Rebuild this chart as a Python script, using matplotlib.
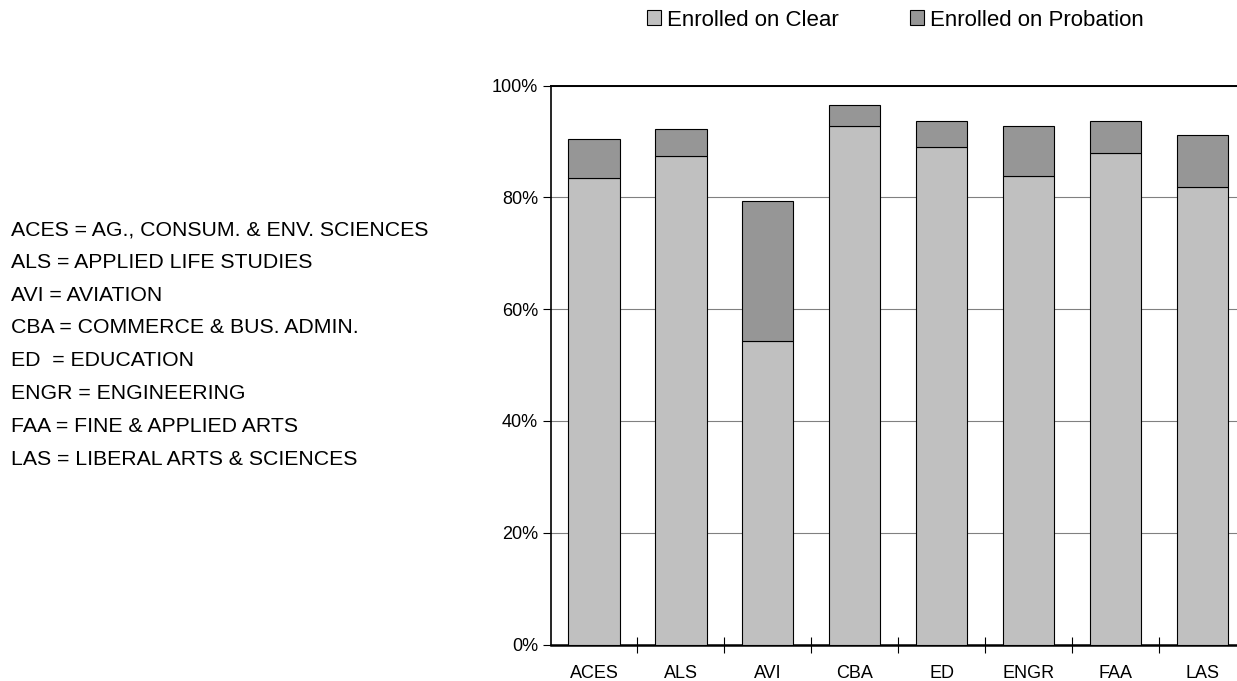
import matplotlib.pyplot as plt
import numpy as np
from matplotlib.ticker import PercentFormatter

colleges = ['ACES', 'ALS', 'AVI', 'CBA', 'ED', 'ENGR', 'FAA', 'LAS']
clear = [83.5, 87.5, 54.4, 92.7, 89.1, 83.9, 87.9, 81.8]
total = [90.4, 92.3, 79.4, 96.5, 93.6, 92.8, 93.6, 91.1]
probation = [t - c for t, c in zip(total, clear)]

key_lines = ['ACES = AG., CONSUM. & ENV. SCIENCES',
             'ALS = APPLIED LIFE STUDIES',
             'AVI = AVIATION',
             'CBA = COMMERCE & BUS. ADMIN.',
             'ED  = EDUCATION',
             'ENGR = ENGINEERING',
             'FAA = FINE & APPLIED ARTS',
             'LAS = LIBERAL ARTS & SCIENCES']

plt.rcParams['font.family'] = ['Liberation Sans', 'DejaVu Sans']

W, H = 1237, 681
fig = plt.figure(figsize=(W/100, H/100), dpi=100)
# axes runs a bit past the right edge of the picture, as in the original
ax = fig.add_axes([550.5/W, 1 - 644.5/H, 695.5/W, (644.5-85.7)/H])

x = np.arange(len(colleges))
ax.bar(x, clear, width=0.59, color='#c0c0c0', edgecolor='black', linewidth=0.8,
       label='Enrolled on Clear', zorder=3)
ax.bar(x, probation, width=0.59, bottom=clear, color='#969696', edgecolor='black',
       linewidth=0.8, label='Enrolled on Probation', zorder=3)

ax.set_xlim(-0.5, len(colleges) - 0.5)
ax.set_ylim(0, 100)
ax.set_yticks(np.arange(0, 101, 20))
ax.yaxis.set_major_formatter(PercentFormatter(decimals=0))
ax.grid(axis='y', color='#808080', linewidth=0.8, zorder=0)

ax.set_xticks(x)
ax.set_xticklabels(colleges)
ax.set_xticks(np.arange(0.5, len(colleges) - 0.5), minor=True)
ax.tick_params(axis='x', which='major', length=0, pad=15, labelsize=13)
ax.tick_params(axis='x', which='minor', length=12, direction='inout', width=0.8)
ax.tick_params(axis='y', length=6, width=0.8, labelsize=13, pad=3)

for side in ['left', 'bottom', 'top']:
    ax.spines[side].set_color('black')
ax.spines['left'].set_linewidth(1.2)
ax.spines['bottom'].set_linewidth(1.8)
ax.spines['top'].set_linewidth(1.4)
ax.spines['right'].set_visible(False)

fig.legend(loc='center', bbox_to_anchor=(895/W, 1 - 20/H), ncol=2, frameon=False,
           fontsize=16, handlelength=0.65, handleheight=0.65, handletextpad=0.25,
           columnspacing=3.2)

for i, line in enumerate(key_lines):
    fig.text(11/W, 1 - (235 + 32.8*i)/H, line, fontsize=15.3, va='baseline', ha='left')

fig.savefig('out.png', dpi=100)
